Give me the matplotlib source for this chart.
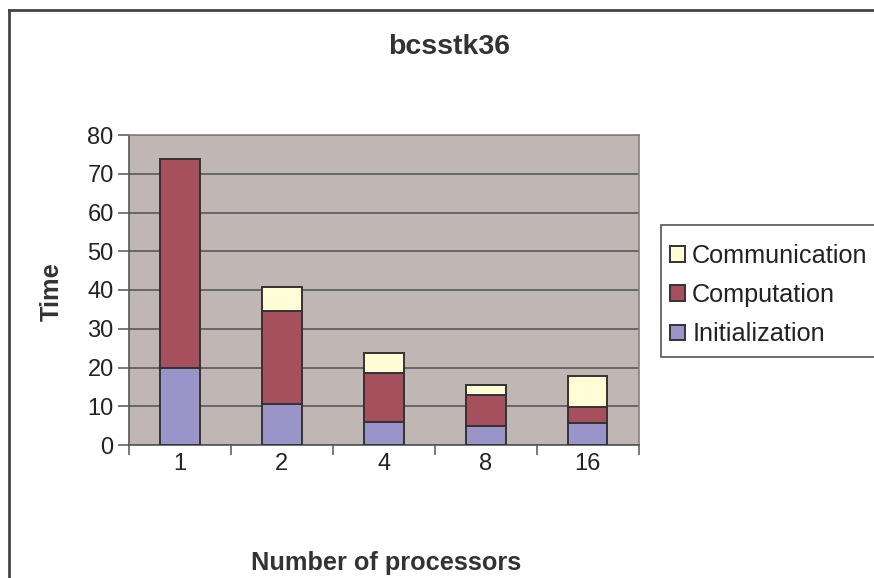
import matplotlib
matplotlib.use("Agg")
import matplotlib.pyplot as plt
from matplotlib.lines import Line2D
from matplotlib.patches import Rectangle
import numpy as np

categories = ["1", "2", "4", "8", "16"]
initialization = [20, 10.6, 6, 4.8, 5.8]
computation = [53.9, 24.1, 12.7, 8.1, 3.9]
communication = [0, 6.1, 5.1, 2.7, 8.1]
yticks = [0, 10, 20, 30, 40, 50, 60, 70, 80]

plt.rcParams['font.family'] = ['Liberation Sans', 'DejaVu Sans']

W, H = 874, 578
fig = plt.figure(figsize=(W / 100, H / 100), dpi=100)
fig.patch.set_facecolor("white")

ax = fig.add_axes([129 / W, 1 - 445 / H, (638.5 - 129) / W, (445 - 135) / H])
ax.set_facecolor("#C0B7B4")

x = np.arange(len(categories))
w = 0.39
ec = "#333333"
lw = 1.4
c_init = "#9A95C8"
c_comp = "#A6505E"
c_comm = "#FFFCD6"

b1 = ax.bar(x, initialization, w, color=c_init, edgecolor=ec, linewidth=lw, zorder=3)
bottom2 = np.array(initialization)
b2 = ax.bar(x, computation, w, bottom=bottom2, color=c_comp, edgecolor=ec, linewidth=lw, zorder=3)
bottom3 = bottom2 + np.array(computation)
comm_vals = np.array(communication)
b3 = ax.bar(x[comm_vals > 0], comm_vals[comm_vals > 0], w, bottom=bottom3[comm_vals > 0],
            color=c_comm, edgecolor=ec, linewidth=lw, zorder=3)

ax.set_xlim(-0.5, len(categories) - 0.5)
ax.set_ylim(0, 80)
ax.set_yticks(yticks)
ax.set_yticklabels([str(v) for v in yticks])
ax.yaxis.grid(True, color="#505050", linewidth=1.1, zorder=1)
ax.set_axisbelow(True)

ax.set_xticks(x)
ax.set_xticklabels(categories)
ax.set_xticks(np.arange(-0.5, len(categories)), minor=True)
ax.tick_params(axis="x", which="major", length=0, pad=6, labelsize=17, colors="#222222")
ax.tick_params(axis="x", which="minor", length=7, width=1.1, color="#555555", direction="out")
ax.tick_params(axis="y", length=8, width=1.1, color="#555555", direction="out", pad=3,
               labelsize=17, labelcolor="#222222")

for s in ["left", "bottom"]:
    ax.spines[s].set_color("#555555")
    ax.spines[s].set_linewidth(1.2)
for s in ["top", "right"]:
    ax.spines[s].set_color("#8A807E")
    ax.spines[s].set_linewidth(1.2)

fig.text(449 / W, 1 - 47 / H, "bcsstk36", ha="center", va="center",
         fontsize=20.5, fontweight="bold", color="#333333")
fig.text(386 / W, 1 - 563 / H, "Number of processors", ha="center", va="center",
         fontsize=18.3, fontweight="bold", color="#333333")
fig.text(52 / W, 1 - 292 / H, "Time", ha="center", va="center", rotation=90,
         fontsize=18.3, fontweight="bold", color="#333333")

# legend frame drawn separately (runs off the right edge as in the reference)
fig.patches.append(Rectangle((661 / W, 1 - 357 / H), 0.5, (357 - 225) / H,
                             transform=fig.transFigure, facecolor="white",
                             edgecolor="#555555", linewidth=1.2, zorder=4))

leg = fig.legend([b3, b2, b1], ["Communication", "Computation", "Initialization"],
                 loc="upper left", bbox_to_anchor=(651 / W, 1 - 225 / H),
                 bbox_transform=fig.transFigure,
                 fontsize=18.2, frameon=False, handlelength=0.58, handleheight=0.58,
                 handletextpad=0.3, labelspacing=0.6, borderpad=0.75,
                 borderaxespad=0)
leg.set_zorder(5)
for t in leg.get_texts():
    t.set_color("#222222")

fig.lines.append(Line2D([8.5 / W, 8.5 / W], [0, 1 - 9.5 / H], transform=fig.transFigure,
                        color="#444444", linewidth=2))
fig.lines.append(Line2D([8.5 / W, 1], [1 - 9.5 / H, 1 - 9.5 / H], transform=fig.transFigure,
                        color="#444444", linewidth=2))

fig.savefig("out.png", dpi=100)
